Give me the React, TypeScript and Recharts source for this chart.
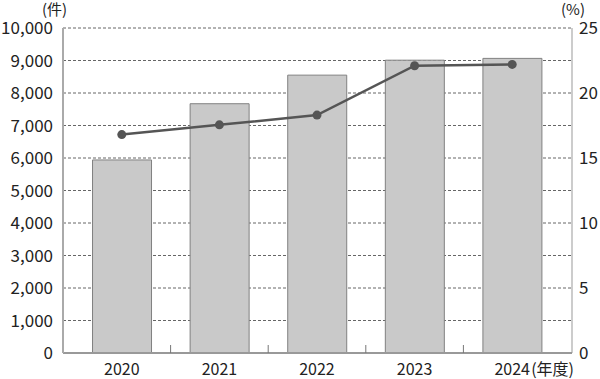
import {
  Bar,
  CartesianGrid,
  ComposedChart,
  Line,
  XAxis,
  YAxis
} from "recharts";

const years = ["2020", "2021", "2022", "2023", "2024"];
const cases = [5940, 7670, 8550, 9010, 9065];
const rates = [16.8, 17.55, 18.3, 22.1, 22.2];

const leftTicks = [0, 1000, 2000, 3000, 4000, 5000, 6000, 7000, 8000, 9000, 10000];
const rightTicks = [0, 5, 10, 15, 20, 25];

const rows = years.map((year, i) => ({ year, cases: cases[i], rate: rates[i] }));

const FONT = '"Noto Sans CJK JP", "Noto Sans", sans-serif';
const AXIS_Y = 353;
const HALF_BAND = 48.8;
const MARGIN = { top: 28, right: 0, left: 0, bottom: 6 };

function YearTick(props: any) {
  const { x, payload, index } = props;
  const last = index === years.length - 1;
  return (
    <g>
      {!last && (
        <line
          x1={x + HALF_BAND}
          x2={x + HALF_BAND}
          y1={AXIS_Y}
          y2={AXIS_Y - 8}
          stroke="#777"
          strokeWidth={1}
        />
      )}
      <text x={x} y={375} textAnchor="middle" fontSize={16} fill="#222" fontFamily={FONT}>
        {payload.value}
      </text>
      {last && (
        <text x={x + 19} y={375} textAnchor="start" fontSize={16} fill="#222" fontFamily={FONT}>
          (年度)
        </text>
      )}
    </g>
  );
}

export default function App() {
  return (
    <div style={{ position: "absolute", left: 0, top: 0, width: 600, height: 379, background: "#fff" }}>
      <ComposedChart width={600} height={379} data={rows} margin={MARGIN} barCategoryGap="20%">
        <CartesianGrid yAxisId="left" vertical={false} stroke="#666" strokeDasharray="3 2" />
        <XAxis
          dataKey="year"
          height={20}
          padding={{ left: 10, right: 11 }}
          axisLine={{ stroke: "#999", strokeWidth: 2 }}
          tickLine={false}
          tick={<YearTick />}
          interval={0}
        />
        <YAxis
          yAxisId="left"
          width={63}
          domain={[0, 10000]}
          ticks={leftTicks}
          tickFormatter={(v: number) => v.toLocaleString("en-US")}
          axisLine={{ stroke: "#aaa", strokeWidth: 2 }}
          tickLine={false}
          tickMargin={4}
          tick={{ fontSize: 17, fill: "#222", fontFamily: FONT }}
        />
        <YAxis
          yAxisId="right"
          orientation="right"
          width={28}
          domain={[0, 25]}
          ticks={rightTicks}
          axisLine={{ stroke: "#999", strokeWidth: 1 }}
          tickLine={false}
          tickMargin={1}
          tick={{ fontSize: 17, fill: "#222", fontFamily: FONT, textAnchor: "start" }}
        />
        <Bar
          yAxisId="left"
          dataKey="cases"
          fill="#c9c9c9"
          stroke="#808080"
          strokeWidth={1}
          isAnimationActive={false}
        />
        <Line
          yAxisId="right"
          dataKey="rate"
          stroke="#555"
          strokeWidth={2.5}
          dot={{ r: 4.5, fill: "#555", stroke: "#555", strokeWidth: 0 }}
          activeDot={false}
          isAnimationActive={false}
        />
      </ComposedChart>
      <div
        style={{ position: "absolute", left: 42, top: 1, fontSize: 15, lineHeight: "15px", color: "#222", fontFamily: FONT }}
      >
        (件)
      </div>
      <div
        style={{ position: "absolute", left: 561, top: 1, fontSize: 15, lineHeight: "15px", color: "#222", fontFamily: FONT }}
      >
        (%)
      </div>
    </div>
  );
}
